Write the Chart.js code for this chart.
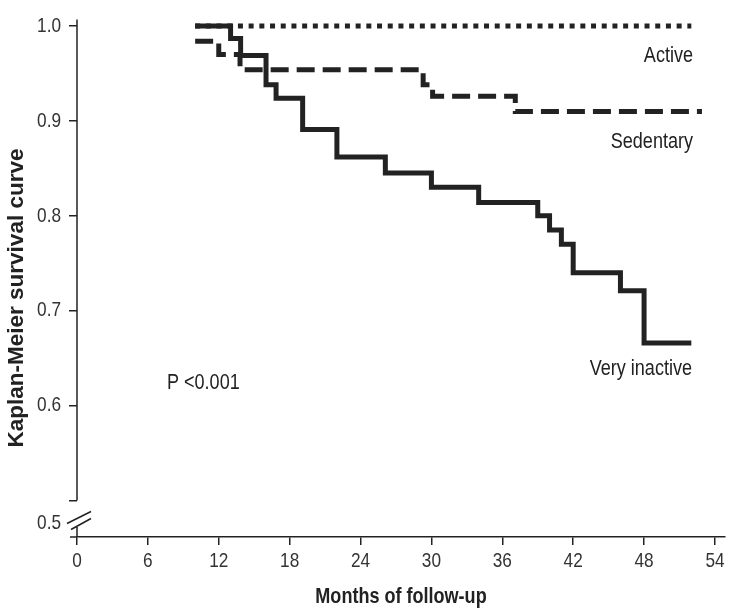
<!DOCTYPE html>
<html>
<head>
<meta charset="utf-8">
<script src="https://cdn.jsdelivr.net/npm/chart.js@4.4.1/dist/chart.umd.min.js"></script>
<style>
  body { margin: 0; background: #fff; }
</style>
</head>
<body>
<canvas id="km" width="736" height="615"></canvas>
<script>
// Kaplan-Meier steps (month of event, survival after it)
const activeMonths = [10, 52];
const activeSurv = [1.0, 1.0];

const sedentaryMonths = [10, 12, 13.8, 29.3, 30.1, 37.1, 52.9];
const sedentarySurv = [0.984, 0.970, 0.954, 0.938, 0.926, 0.910, 0.910];

const inactiveMonths = [10, 13, 13.85, 16, 16.85, 19.1, 22, 26.1, 30, 34, 39, 40, 41, 42, 46, 48, 52];
const inactiveSurv = [1.0, 0.987, 0.969, 0.938, 0.924, 0.891, 0.862, 0.845, 0.830, 0.814, 0.800, 0.785, 0.770, 0.740, 0.721, 0.666, 0.666];

const xTicks = [0, 6, 12, 18, 24, 30, 36, 42, 48, 54];
const yTicks = [0.5, 0.6, 0.7, 0.8, 0.9, 1.0];

const sans = "'Liberation Sans', Arial, sans-serif";
const ink = "#222";

function pts(xs, ys) {
  return xs.map((x, i) => ({ x: x, y: ys[i] }));
}

// condensed text: squeeze a normal face horizontally
function narrowText(ctx, text, x, y, align, font) {
  ctx.save();
  ctx.font = font;
  ctx.textAlign = align;
  ctx.textBaseline = "middle";
  ctx.scale(0.82, 1);
  ctx.fillText(text, x / 0.82, y);
  ctx.restore();
}

// tick labels, labels, y-axis with break, titles
const extras = {
  id: "extras",
  afterDraw(chart) {
    const ctx = chart.ctx;
    const xs = chart.scales.x;
    const ys = chart.scales.y;
    const x0 = xs.getPixelForValue(0);
    const top = chart.chartArea.top;
    const bottom = chart.chartArea.bottom;
    const y05 = ys.getPixelForValue(0.5);

    ctx.save();
    ctx.strokeStyle = ink;
    ctx.lineWidth = 1.5;
    ctx.beginPath();
    ctx.moveTo(x0, top);
    ctx.lineTo(x0, y05);
    ctx.moveTo(x0, bottom - 10);
    ctx.lineTo(x0, bottom);
    // x axis stub left of 0
    ctx.moveTo(x0 - 7, bottom);
    ctx.lineTo(x0, bottom);
    // break marks
    ctx.moveTo(x0 - 10, y05 + 23);
    ctx.lineTo(x0 + 14, y05 + 11);
    ctx.moveTo(x0 - 6, y05 + 29);
    ctx.lineTo(x0 + 14, y05 + 18);
    ctx.stroke();

    const tickFont = "21px " + sans;
    ctx.fillStyle = "#333";
    ys.ticks.forEach(t => {
      const y = t.value === 0.5 ? y05 + 23 : ys.getPixelForValue(t.value);
      narrowText(ctx, t.value.toFixed(1), 61, y, "right", tickFont);
    });
    xs.ticks.forEach(t => {
      narrowText(ctx, String(t.value), xs.getPixelForValue(t.value), bottom + 24, "center", tickFont);
    });

    ctx.fillStyle = ink;
    const lab = "22px " + sans;
    narrowText(ctx, "Active", 693, 56, "right", lab);
    narrowText(ctx, "Sedentary", 693, 142, "right", lab);
    narrowText(ctx, "Very inactive", 692, 369, "right", lab);
    narrowText(ctx, "P <0.001", 167, 383, "left", lab);
    narrowText(ctx, "Months of follow-up", (chart.chartArea.left + chart.chartArea.right) / 2, 597, "center", "bold 22px " + sans);

    ctx.translate(17, 298);
    ctx.rotate(-Math.PI / 2);
    ctx.textAlign = "center";
    ctx.textBaseline = "middle";
    ctx.font = "bold 22.5px " + sans;
    ctx.fillText("Kaplan-Meier survival curve", 0, 0);
    ctx.restore();
  }
};

new Chart(document.getElementById("km"), {
  type: "line",
  data: {
    datasets: [
      {
        label: "Active",
        data: pts(activeMonths, activeSurv),
        borderColor: ink,
        borderWidth: 5,
        borderDash: [5, 5.7],
        borderCapStyle: "butt",
        stepped: "before",
        pointRadius: 0,
        fill: false
      },
      {
        label: "Sedentary",
        data: pts(sedentaryMonths, sedentarySurv),
        borderColor: ink,
        borderWidth: 5,
        borderDash: [18, 8],
        borderCapStyle: "butt",
        stepped: "before",
        pointRadius: 0,
        fill: false
      },
      {
        label: "Very inactive",
        data: pts(inactiveMonths, inactiveSurv),
        borderColor: ink,
        borderWidth: 5,
        borderCapStyle: "butt",
        borderJoinStyle: "miter",
        stepped: "before",
        pointRadius: 0,
        fill: false
      }
    ]
  },
  options: {
    responsive: false,
    animation: false,
    devicePixelRatio: 1,
    layout: { padding: { top: 14, right: 11, left: 0, bottom: 0 } },
    plugins: {
      legend: { display: false },
      tooltip: { enabled: false }
    },
    scales: {
      x: {
        type: "linear",
        min: 0,
        max: 54.85,
        afterBuildTicks: (s) => { s.ticks = xTicks.map(v => ({ value: v })); },
        afterFit: (s) => { s.height = 78; },
        border: { display: true, color: ink, width: 1.5 },
        grid: { drawOnChartArea: false, drawTicks: true, tickLength: 8, color: ink, lineWidth: 1.5 },
        ticks: { color: "rgba(0,0,0,0)", font: { size: 19, family: sans }, padding: 6, maxRotation: 0 }
      },
      y: {
        type: "linear",
        min: 0.4615,
        max: 1.007,
        afterBuildTicks: (s) => { s.ticks = yTicks.map(v => ({ value: v })); },
        afterFit: (s) => { s.width = 77; },
        border: { display: false },
        grid: { drawOnChartArea: false, drawTicks: true, tickLength: 8, color: ink, lineWidth: 1.5 },
        ticks: { color: "rgba(0,0,0,0)", font: { size: 19, family: sans }, padding: 8 }
      }
    }
  },
  plugins: [extras]
});
</script>
</body>
</html>
